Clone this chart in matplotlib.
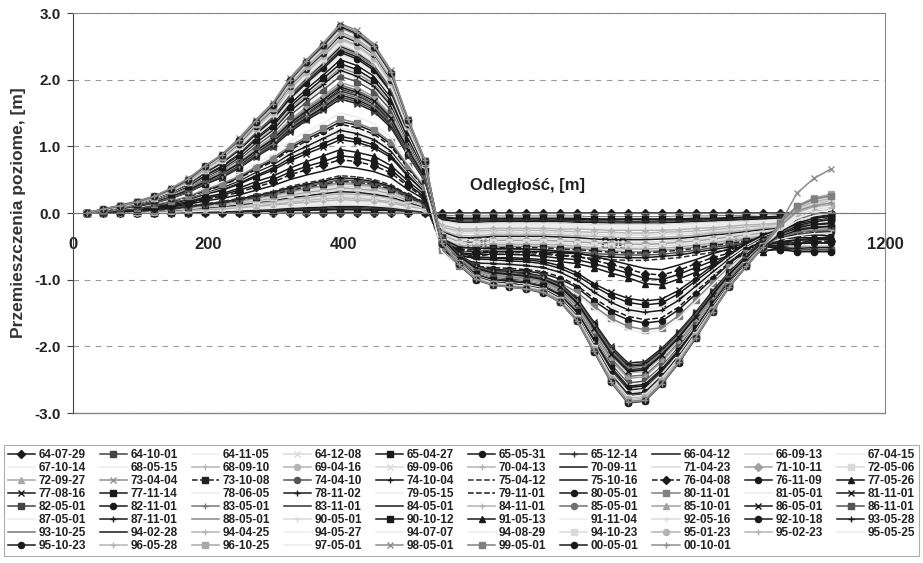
import matplotlib
matplotlib.use('Agg')
import matplotlib.pyplot as plt

plt.rcParams['font.family'] = ['Liberation Sans', 'DejaVu Sans']
plt.rcParams['font.weight'] = 'bold'
plt.rcParams['axes.labelweight'] = 'bold'
plt.rcParams['axes.unicode_minus'] = False

# odległość punktów linii obserwacyjnej [m]
odleglosc = [20, 45, 70, 95, 120, 145, 170, 195, 220, 245, 270, 295, 320, 345, 370,
             395, 420, 445, 470, 495, 520, 545, 570, 595, 620, 645, 670, 695, 720,
             745, 770, 795, 820, 845, 870, 895, 920, 945, 970, 995, 1020, 1045,
             1070, 1095, 1120]

# daty pomiarów (kolejność jak w legendzie)
daty = ['64-07-29', '64-10-01', '64-11-05', '64-12-08', '65-04-27', '65-05-31', '65-12-14', '66-04-12', '66-09-13', '67-04-15',
        '67-10-14', '68-05-15', '68-09-10', '69-04-16', '69-09-06', '70-04-13', '70-09-11', '71-04-23', '71-10-11', '72-05-06',
        '72-09-27', '73-04-04', '73-10-08', '74-04-10', '74-10-04', '75-04-12', '75-10-16', '76-04-08', '76-11-09', '77-05-26',
        '77-08-16', '77-11-14', '78-06-05', '78-11-02', '79-05-15', '79-11-01', '80-05-01', '80-11-01', '81-05-01', '81-11-01',
        '82-05-01', '82-11-01', '83-05-01', '83-11-01', '84-05-01', '84-11-01', '85-05-01', '85-10-01', '86-05-01', '86-11-01',
        '87-05-01', '87-11-01', '88-05-01', '90-05-01', '90-10-12', '91-05-13', '91-11-04', '92-05-16', '92-10-18', '93-05-28',
        '93-10-25', '94-02-28', '94-04-25', '94-05-27', '94-07-07', '94-08-29', '94-10-23', '95-01-23', '95-02-23', '95-05-25',
        '95-10-23', '96-05-28', '96-10-25', '97-05-01', '98-05-01', '99-05-01', '00-05-01', '00-10-01']

# przemieszczenia poziome [cm] - jeden wiersz na pomiar
przem_64_72 = [
    [0, 0, 0, 0, 0, 0, 0, 0, 0, 0, 0, 0, 0, 0, 0, 0, 0, 0, 0, 0, 0, 0, 0, 0, 0, 0, 0, 0, 0, 0, 0, 0, 0, 0, 0, 0, 0, 0, 0, 0, 0, 0, 0, 0, 0],
    [0, 0, 0, 0, 0, 0, 0, 1, 1, 1, 1, 1, 1, 2, 2, 2, 2, 2, 2, 1, 1, -4, -5, -5, -5, -5, -5, -5, -5, -5, -6, -6, -6, -6, -6, -5, -5, -5, -4, -4, -4, -3, -3, -3, -2],
    [0, 0, 0, 0, 0, 0, 1, 1, 1, 1, 1, 2, 2, 2, 3, 3, 3, 3, 2, 2, 1, -5, -6, -6, -6, -6, -6, -6, -6, -6, -7, -7, -7, -7, -7, -6, -6, -6, -5, -5, -4, -4, -3, -3, -3],
    [0, 0, 0, 0, 0, 1, 1, 1, 1, 2, 2, 2, 3, 3, 4, 4, 4, 4, 3, 2, 1, -6, -7, -7, -7, -7, -7, -7, -7, -7, -8, -8, -8, -8, -8, -8, -7, -7, -6, -6, -5, -5, -4, -4, -3],
    [0, 0, 0, 0, 0, 1, 1, 1, 2, 2, 2, 3, 4, 4, 5, 5, 5, 4, 4, 3, 1, -6, -8, -8, -8, -8, -8, -8, -8, -8, -9, -9, -9, -9, -9, -9, -8, -8, -7, -6, -6, -5, -5, -4, -4],
    [0, 0, 0, 0, 1, 1, 1, 2, 2, 2, 3, 3, 4, 5, 5, 6, 6, 5, 5, 3, 2, -7, -9, -9, -9, -9, -9, -9, -9, -10, -10, -10, -10, -10, -10, -10, -9, -9, -8, -7, -6, -6, -5, -5, -4],
    [0, 0, 0, 0, 1, 1, 1, 2, 2, 3, 4, 5, 6, 6, 7, 8, 8, 7, 6, 4, 2, -9, -12, -12, -11, -11, -11, -11, -11, -12, -12, -12, -13, -13, -12, -12, -11, -10, -10, -9, -8, -7, -6, -6, -5],
    [0, 0, 0, 1, 1, 1, 2, 3, 3, 4, 5, 6, 7, 8, 9, 10, 10, 9, 8, 5, 3, -10, -14, -14, -13, -13, -13, -13, -13, -14, -14, -15, -15, -15, -15, -14, -13, -12, -11, -10, -9, -8, -8, -7, -6],
    [0, 0, 0, 1, 1, 2, 2, 3, 4, 5, 6, 7, 9, 10, 11, 12, 12, 11, 9, 6, 3, -12, -16, -16, -15, -15, -15, -15, -15, -16, -17, -17, -17, -17, -17, -16, -15, -14, -13, -12, -11, -10, -9, -8, -7],
    [0, 0, 1, 1, 1, 2, 3, 4, 4, 5, 7, 8, 10, 11, 13, 14, 13, 12, 11, 7, 4, -14, -18, -18, -17, -17, -17, -17, -18, -18, -19, -19, -20, -20, -19, -18, -17, -16, -15, -14, -12, -11, -10, -9, -8],
    [0, 0, 1, 1, 1, 2, 3, 4, 5, 6, 8, 9, 11, 13, 14, 16, 15, 14, 12, 8, 4, -15, -20, -20, -19, -19, -19, -19, -20, -20, -21, -21, -22, -22, -21, -21, -19, -18, -17, -15, -14, -12, -11, -10, -9],
    [0, 0, 1, 1, 2, 2, 3, 5, 6, 7, 9, 10, 13, 15, 16, 18, 17, 16, 14, 9, 5, -17, -22, -22, -21, -21, -21, -21, -22, -22, -23, -24, -24, -24, -24, -23, -21, -20, -18, -17, -15, -14, -12, -11, -10],
    [0, 0, 1, 1, 2, 3, 4, 5, 6, 8, 10, 12, 14, 16, 18, 20, 19, 18, 15, 10, 6, -18, -24, -24, -23, -23, -23, -23, -24, -24, -25, -26, -26, -26, -26, -25, -23, -22, -20, -18, -17, -15, -13, -12, -11],
    [0, 0, 1, 1, 2, 3, 4, 6, 7, 9, 11, 13, 16, 19, 21, 23, 22, 20, 17, 12, 6, -21, -27, -27, -26, -26, -26, -26, -27, -28, -29, -29, -30, -30, -29, -28, -27, -25, -23, -21, -19, -17, -15, -14, -12],
    [0, 1, 1, 2, 2, 3, 5, 7, 8, 10, 13, 15, 18, 21, 23, 26, 25, 23, 20, 13, 7, -23, -30, -30, -29, -29, -29, -29, -30, -31, -32, -33, -33, -33, -32, -31, -30, -28, -26, -23, -21, -19, -17, -15, -14],
    [0, 1, 1, 2, 3, 4, 5, 7, 9, 11, 14, 17, 21, 23, 26, 29, 28, 26, 22, 15, 8, -26, -34, -34, -32, -32, -32, -32, -33, -34, -35, -36, -37, -37, -36, -35, -33, -30, -28, -26, -23, -21, -19, -17, -15],
    [0, 1, 1, 2, 3, 4, 6, 8, 10, 12, 16, 19, 23, 26, 29, 32, 31, 28, 24, 16, 9, -28, -37, -37, -35, -35, -35, -35, -36, -37, -39, -40, -40, -40, -39, -38, -36, -33, -31, -28, -25, -23, -20, -18, -17],
    [0, 1, 1, 2, 3, 5, 6, 9, 11, 14, 17, 20, 25, 28, 32, 35, 34, 31, 26, 18, 10, -30, -40, -40, -38, -38, -38, -38, -39, -40, -42, -43, -44, -44, -43, -41, -39, -36, -33, -30, -27, -25, -22, -20, -18],
    [0, 1, 2, 2, 3, 5, 7, 10, 12, 15, 19, 22, 27, 31, 34, 38, 36, 34, 29, 19, 11, -33, -43, -43, -41, -41, -41, -41, -42, -43, -45, -46, -47, -47, -46, -44, -42, -39, -36, -33, -30, -27, -24, -21, -20],
    [0, 1, 2, 2, 4, 5, 7, 10, 13, 16, 20, 24, 29, 33, 37, 41, 39, 36, 31, 21, 11, -35, -46, -46, -44, -44, -44, -44, -45, -47, -48, -50, -51, -51, -49, -48, -45, -42, -39, -35, -32, -29, -26, -23, -21],
]
przem_72_81 = [
    [0, 1, 2, 3, 4, 6, 8, 11, 14, 17, 22, 26, 31, 36, 40, 44, 42, 39, 33, 22, 12, -38, -49, -49, -47, -47, -47, -47, -48, -50, -52, -53, -54, -54, -53, -51, -48, -45, -41, -38, -34, -31, -27, -24, -23],
    [0, 1, 2, 3, 4, 6, 8, 12, 14, 18, 23, 27, 33, 37, 41, 46, 44, 41, 35, 23, 13, -40, -53, -53, -50, -50, -50, -50, -52, -53, -55, -57, -58, -58, -56, -54, -51, -48, -44, -40, -36, -33, -29, -26, -24],
    [0, 1, 2, 3, 4, 6, 9, 12, 15, 19, 24, 28, 34, 39, 43, 48, 46, 43, 36, 24, 13, -42, -55, -55, -52, -52, -52, -52, -54, -55, -57, -59, -60, -60, -58, -56, -53, -49, -46, -42, -37, -34, -30, -27, -25],
    [0, 1, 2, 3, 5, 7, 9, 13, 16, 20, 25, 29, 36, 41, 45, 50, 48, 45, 38, 25, 14, -44, -58, -58, -55, -55, -55, -55, -57, -58, -61, -62, -63, -63, -62, -59, -56, -52, -48, -44, -40, -36, -32, -29, -26],
    [0, 1, 2, 3, 5, 7, 10, 13, 16, 21, 26, 31, 38, 43, 48, 53, 51, 47, 40, 27, 15, -46, -61, -61, -58, -58, -58, -58, -60, -61, -64, -66, -67, -67, -65, -63, -59, -55, -51, -46, -42, -38, -34, -30, -28],
    [0, 1, 2, 3, 5, 7, 10, 14, 17, 22, 27, 32, 40, 45, 50, 56, 54, 50, 42, 28, 16, -50, -65, -65, -62, -62, -62, -62, -64, -66, -68, -70, -71, -71, -69, -67, -63, -59, -55, -50, -45, -40, -36, -32, -30],
    [0, 1, 3, 4, 6, 9, 13, 18, 22, 27, 34, 41, 50, 57, 63, 70, 67, 62, 53, 35, 20, -38, -51, -53, -53, -53, -54, -55, -58, -60, -65, -71, -77, -83, -85, -78, -70, -61, -54, -49, -46, -43, -40, -38, -36],
    [0, 2, 3, 5, 7, 10, 14, 20, 25, 31, 39, 46, 57, 65, 72, 80, 77, 71, 60, 40, 22, -42, -56, -58, -58, -58, -59, -60, -63, -65, -71, -77, -84, -91, -93, -86, -76, -67, -60, -54, -50, -47, -45, -43, -42],
    [0, 2, 3, 5, 8, 11, 15, 22, 27, 34, 42, 50, 61, 70, 77, 86, 83, 77, 65, 43, 24, -45, -60, -62, -62, -62, -63, -65, -68, -70, -76, -83, -90, -98, -100, -92, -82, -72, -64, -58, -56, -55, -55, -55, -55],
    [0, 2, 4, 6, 9, 12, 17, 24, 29, 37, 47, 55, 67, 77, 86, 95, 91, 85, 71, 48, 27, -49, -65, -67, -67, -67, -68, -70, -73, -76, -82, -90, -97, -106, -108, -99, -89, -78, -69, -63, -58, -52, -46, -40, -35],
    [0, 2, 4, 7, 10, 14, 20, 28, 34, 43, 54, 64, 78, 89, 99, 110, 106, 98, 83, 55, 31, -42, -59, -66, -67, -69, -70, -73, -79, -90, -106, -119, -128, -132, -129, -116, -98, -79, -61, -45, -33, -24, -17, -12, -8],
    [0, 2, 5, 7, 10, 15, 21, 29, 36, 45, 56, 67, 82, 93, 104, 115, 110, 102, 86, 58, 32, -44, -62, -69, -70, -72, -73, -76, -83, -94, -110, -124, -134, -138, -135, -121, -102, -83, -63, -47, -35, -25, -18, -12, -8],
    [0, 2, 5, 7, 11, 16, 22, 30, 37, 47, 59, 70, 85, 97, 108, 120, 115, 107, 90, 60, 34, -46, -65, -72, -73, -75, -76, -79, -86, -98, -115, -130, -140, -144, -141, -127, -107, -86, -66, -49, -36, -26, -19, -13, -9],
    [0, 2, 5, 7, 11, 16, 22, 31, 38, 48, 61, 72, 88, 100, 112, 124, 119, 110, 93, 62, 35, -48, -67, -75, -76, -77, -79, -82, -89, -101, -119, -134, -145, -149, -146, -131, -110, -89, -69, -51, -37, -27, -19, -13, -9],
    [0, 3, 5, 8, 12, 17, 23, 32, 40, 50, 63, 74, 91, 104, 115, 128, 123, 114, 96, 64, 36, -49, -69, -77, -79, -80, -82, -85, -92, -105, -123, -139, -149, -154, -151, -136, -114, -92, -71, -52, -39, -28, -20, -14, -9],
    [0, 3, 5, 8, 12, 17, 24, 33, 41, 52, 65, 77, 94, 108, 120, 133, 128, 118, 100, 67, 37, -51, -72, -80, -82, -83, -85, -88, -96, -109, -128, -144, -155, -160, -157, -141, -118, -96, -74, -54, -40, -29, -21, -14, -10],
    [0, 3, 5, 8, 12, 18, 25, 34, 42, 53, 67, 79, 97, 111, 123, 137, 132, 122, 103, 69, 38, -53, -74, -83, -84, -86, -87, -91, -99, -112, -132, -149, -160, -165, -162, -145, -122, -99, -76, -56, -41, -30, -21, -15, -10],
    [0, 3, 6, 8, 13, 18, 25, 35, 44, 55, 69, 82, 100, 114, 127, 141, 135, 125, 106, 71, 39, -56, -79, -88, -89, -91, -93, -96, -105, -119, -140, -158, -170, -175, -172, -154, -130, -105, -81, -60, -44, -32, -23, -16, -11],
    [0, 3, 6, 9, 14, 20, 27, 38, 47, 59, 74, 87, 107, 122, 135, 150, 144, 134, 113, 75, 42, -58, -81, -90, -92, -94, -95, -99, -108, -122, -144, -162, -175, -180, -176, -158, -133, -108, -83, -61, -45, -32, -23, -16, -11],
    [0, 3, 7, 10, 15, 22, 31, 43, 53, 67, 84, 99, 121, 139, 154, 171, 164, 152, 128, 86, 48, -36, -61, -79, -86, -88, -90, -95, -106, -128, -164, -200, -225, -223, -203, -178, -149, -117, -88, -63, -41, -35, -33, -33, -34],
]
przem_82_93 = [
    [0, 3, 7, 10, 16, 23, 31, 44, 54, 68, 85, 101, 124, 141, 157, 174, 167, 155, 131, 87, 49, -36, -62, -80, -87, -89, -91, -96, -107, -130, -166, -203, -228, -226, -205, -180, -150, -119, -89, -64, -41, -30, -24, -21, -20],
    [0, 4, 7, 11, 16, 23, 32, 44, 55, 69, 87, 103, 126, 143, 159, 177, 170, 158, 133, 89, 50, -37, -62, -81, -87, -90, -92, -97, -108, -131, -168, -205, -230, -228, -207, -182, -152, -120, -90, -64, -41, -26, -16, -12, -10],
    [0, 4, 7, 11, 16, 23, 32, 45, 56, 70, 88, 104, 128, 146, 162, 180, 173, 160, 135, 90, 50, -37, -63, -81, -88, -90, -93, -97, -109, -132, -169, -206, -232, -230, -209, -183, -153, -121, -90, -65, -42, -22, -8, -2, 0],
    [0, 4, 7, 11, 16, 24, 33, 46, 57, 71, 90, 106, 130, 148, 165, 183, 176, 163, 137, 92, 51, -38, -63, -82, -89, -92, -94, -99, -110, -134, -172, -209, -235, -233, -212, -186, -155, -122, -92, -66, -42, -44, -45, -45, -45],
    [0, 4, 7, 11, 17, 24, 33, 47, 58, 73, 91, 108, 132, 151, 167, 186, 179, 166, 140, 93, 52, -38, -64, -83, -90, -93, -95, -100, -112, -136, -174, -212, -238, -236, -214, -188, -157, -124, -93, -67, -43, -20, -5, 2, 5],
    [0, 4, 8, 11, 17, 24, 34, 47, 58, 73, 92, 109, 133, 152, 169, 188, 180, 167, 141, 94, 53, -38, -65, -84, -91, -94, -96, -101, -113, -137, -175, -214, -240, -238, -216, -190, -158, -125, -94, -67, -43, -32, -27, -25, -25],
    [0, 4, 8, 12, 17, 25, 35, 48, 60, 75, 94, 111, 136, 156, 173, 192, 184, 171, 144, 96, 54, -39, -66, -86, -93, -96, -98, -103, -115, -140, -179, -218, -245, -243, -221, -194, -162, -127, -96, -69, -44, -18, -2, 6, 10],
    [0, 4, 8, 12, 18, 25, 35, 49, 61, 76, 96, 114, 139, 159, 176, 196, 188, 174, 147, 98, 55, -40, -67, -87, -94, -97, -99, -104, -117, -141, -181, -221, -248, -246, -223, -196, -164, -129, -97, -69, -45, -48, -50, -50, -50],
    [0, 4, 8, 11, 17, 25, 34, 47, 59, 74, 93, 110, 134, 153, 170, 189, 181, 168, 142, 95, 53, -38, -64, -83, -90, -92, -95, -100, -111, -135, -173, -211, -237, -235, -213, -187, -156, -123, -92, -66, -43, -38, -37, -37, -38],
    [0, 4, 8, 12, 18, 27, 37, 51, 64, 80, 100, 119, 146, 166, 185, 205, 197, 182, 154, 103, 57, -41, -69, -89, -97, -99, -102, -107, -120, -145, -186, -227, -255, -252, -230, -201, -168, -133, -99, -71, -46, -52, -55, -55, -55],
    [0, 4, 8, 13, 19, 27, 38, 53, 65, 82, 103, 122, 149, 170, 189, 210, 202, 187, 158, 105, 59, -41, -70, -90, -98, -101, -103, -108, -121, -147, -188, -230, -258, -255, -232, -204, -170, -134, -101, -72, -46, -39, -34, -31, -30],
    [0, 4, 9, 13, 19, 28, 39, 54, 66, 83, 105, 124, 152, 173, 193, 214, 205, 190, 161, 107, 60, -42, -70, -91, -99, -101, -104, -109, -122, -148, -190, -231, -260, -257, -234, -205, -172, -135, -101, -73, -47, -35, -26, -22, -20],
    [0, 4, 9, 13, 20, 28, 39, 55, 68, 85, 107, 126, 155, 177, 196, 218, 209, 194, 164, 109, 61, -42, -71, -92, -100, -102, -105, -110, -123, -149, -191, -233, -262, -259, -236, -207, -173, -136, -102, -73, -47, -26, -12, -4, 0],
    [0, 4, 9, 13, 20, 29, 40, 55, 69, 86, 108, 128, 157, 179, 199, 221, 212, 197, 166, 111, 62, -42, -71, -92, -100, -103, -106, -111, -124, -150, -193, -235, -264, -261, -238, -209, -174, -137, -103, -74, -48, -22, -3, 6, 10],
    [0, 4, 9, 13, 20, 29, 40, 56, 69, 87, 110, 130, 159, 181, 202, 224, 215, 199, 168, 112, 63, -42, -71, -92, -100, -102, -105, -110, -123, -149, -191, -233, -262, -259, -236, -207, -173, -136, -102, -73, -47, -28, -15, -8, -5],
    [0, 5, 9, 14, 21, 30, 41, 58, 71, 90, 113, 133, 163, 186, 207, 230, 221, 205, 173, 115, 64, -43, -72, -93, -101, -104, -106, -112, -125, -152, -194, -237, -266, -263, -239, -210, -176, -138, -104, -74, -48, -32, -22, -17, -15],
    [0, 5, 9, 14, 21, 30, 42, 59, 73, 91, 115, 136, 166, 190, 211, 234, 225, 208, 176, 117, 66, -43, -72, -94, -102, -105, -107, -113, -126, -153, -196, -239, -268, -265, -241, -212, -177, -139, -105, -75, -48, -24, -7, 1, 5],
    [0, 5, 10, 14, 21, 31, 43, 60, 74, 93, 117, 138, 169, 193, 214, 238, 228, 212, 179, 119, 67, -43, -73, -95, -103, -105, -108, -113, -127, -154, -197, -240, -270, -267, -243, -213, -178, -140, -105, -76, -49, -20, 2, 11, 15],
    [0, 5, 10, 14, 22, 31, 43, 60, 75, 94, 118, 140, 171, 195, 217, 241, 231, 214, 181, 121, 67, -44, -73, -95, -103, -106, -109, -114, -128, -155, -199, -242, -272, -269, -245, -215, -180, -141, -106, -76, -49, -55, -58, -58, -58],
    [0, 5, 10, 15, 22, 32, 44, 61, 76, 95, 120, 142, 173, 198, 220, 244, 234, 217, 183, 122, 68, -44, -74, -96, -104, -106, -109, -115, -128, -156, -199, -243, -273, -270, -246, -216, -180, -142, -106, -76, -49, -44, -41, -40, -40],
]
przem_93_00 = [
    [0, 5, 10, 15, 22, 32, 44, 62, 77, 96, 121, 143, 175, 200, 222, 247, 237, 220, 185, 124, 69, -44, -74, -96, -104, -107, -110, -115, -129, -156, -200, -244, -274, -271, -247, -217, -181, -143, -107, -77, -49, -36, -29, -26, -25],
    [0, 5, 10, 15, 23, 33, 45, 63, 78, 98, 123, 145, 178, 203, 225, 250, 240, 223, 188, 125, 70, -44, -74, -96, -105, -107, -110, -116, -129, -157, -201, -245, -275, -272, -248, -217, -182, -143, -107, -77, -50, -52, -53, -52, -52],
    [0, 5, 10, 15, 23, 33, 45, 63, 78, 98, 123, 146, 179, 204, 227, 252, 242, 224, 189, 126, 71, -44, -75, -97, -105, -108, -110, -116, -130, -157, -201, -246, -276, -273, -248, -218, -182, -144, -108, -77, -50, -19, 4, 14, 18],
    [0, 5, 10, 15, 23, 33, 46, 64, 79, 99, 124, 147, 180, 206, 229, 254, 244, 226, 191, 127, 71, -44, -75, -97, -105, -108, -110, -116, -130, -157, -201, -246, -276, -273, -248, -218, -182, -144, -108, -77, -50, -26, -12, -4, 0],
    [0, 5, 10, 15, 23, 33, 46, 64, 79, 100, 125, 148, 182, 207, 230, 256, 246, 228, 192, 128, 72, -44, -75, -97, -105, -108, -111, -116, -130, -158, -202, -247, -277, -274, -249, -219, -183, -144, -108, -78, -50, -23, -5, 4, 8],
    [0, 5, 10, 15, 23, 34, 46, 65, 80, 101, 126, 150, 183, 209, 232, 258, 248, 230, 194, 129, 72, -44, -75, -97, -106, -108, -111, -117, -131, -158, -203, -247, -278, -275, -250, -220, -183, -145, -108, -78, -50, -32, -19, -13, -10],
    [0, 5, 10, 16, 23, 34, 47, 65, 80, 101, 127, 150, 184, 210, 233, 259, 249, 231, 194, 130, 73, -44, -75, -97, -106, -108, -111, -117, -131, -158, -203, -247, -278, -275, -250, -220, -183, -145, -108, -78, -50, -18, 5, 15, 20],
    [0, 5, 10, 16, 23, 34, 47, 65, 81, 102, 128, 151, 185, 211, 235, 261, 251, 232, 196, 131, 73, -45, -75, -98, -106, -109, -112, -117, -131, -159, -204, -248, -279, -276, -251, -220, -184, -145, -109, -78, -50, -21, 0, 9, 12],
    [0, 5, 11, 16, 24, 34, 47, 66, 82, 103, 129, 153, 187, 213, 237, 263, 252, 234, 197, 132, 74, -45, -75, -98, -106, -109, -112, -117, -131, -159, -204, -248, -279, -276, -251, -220, -184, -145, -109, -78, -50, -17, 7, 17, 22],
    [0, 5, 11, 16, 24, 34, 48, 66, 82, 103, 130, 154, 188, 215, 239, 265, 254, 236, 199, 133, 74, -45, -76, -98, -106, -109, -112, -118, -132, -160, -204, -249, -280, -277, -252, -221, -185, -146, -109, -78, -50, -25, -8, 1, 5],
    [0, 5, 11, 16, 24, 35, 48, 67, 83, 104, 131, 155, 190, 216, 240, 267, 256, 238, 200, 134, 75, -45, -76, -99, -107, -110, -113, -118, -133, -161, -206, -251, -282, -279, -254, -223, -186, -147, -110, -79, -51, -48, -46, -45, -45],
    [0, 5, 11, 16, 24, 35, 48, 67, 83, 105, 132, 156, 191, 218, 242, 269, 258, 239, 202, 135, 75, -45, -76, -98, -107, -110, -112, -118, -132, -160, -205, -250, -281, -278, -253, -222, -185, -146, -110, -79, -51, -16, 9, 20, 25],
    [0, 5, 11, 16, 24, 35, 49, 68, 84, 106, 133, 158, 193, 220, 245, 272, 261, 242, 204, 136, 76, -45, -76, -98, -107, -110, -112, -118, -132, -160, -205, -250, -281, -278, -253, -222, -185, -146, -110, -79, -51, -14, 11, 23, 28],
    [0, 6, 11, 17, 25, 36, 50, 69, 85, 107, 135, 160, 195, 223, 248, 275, 264, 245, 206, 138, 77, -45, -76, -99, -107, -110, -113, -118, -133, -161, -206, -251, -282, -279, -254, -223, -186, -147, -110, -79, -51, -22, -2, 7, 10],
    [0, 5, 12, 18, 25, 37, 52, 70, 88, 112, 140, 165, 202, 230, 255, 284, 274, 253, 214, 141, 80, -45, -78, -100, -108, -110, -113, -118, -133, -162, -208, -252, -284, -282, -256, -224, -188, -148, -110, -80, -50, -15, 30, 52, 66],
    [0, 6, 11, 17, 25, 36, 50, 70, 86, 108, 136, 161, 197, 225, 250, 278, 267, 247, 209, 139, 78, -45, -76, -99, -108, -110, -113, -119, -133, -161, -207, -252, -283, -280, -255, -224, -187, -147, -110, -79, -51, -15, 10, 21, 26],
    [0, 6, 11, 17, 25, 36, 50, 70, 87, 109, 137, 162, 199, 227, 252, 280, 269, 249, 210, 140, 78, -46, -77, -100, -108, -111, -114, -120, -134, -162, -208, -254, -285, -282, -257, -225, -188, -148, -111, -80, -51, -32, -19, -13, -10],
    [0, 6, 11, 17, 25, 37, 51, 71, 87, 110, 138, 164, 200, 228, 254, 282, 271, 251, 212, 141, 79, -45, -77, -99, -108, -111, -114, -119, -134, -162, -207, -253, -284, -281, -256, -224, -187, -148, -111, -80, -51, -20, 3, 11, 15],
]

# wygląd serii (kolor, znacznik, styl linii) - druk w skali szarości
K = '#1a1a1a'
W = '#ececec'
VL = '#dadada'
L = '#b4b4b4'
G = '#808080'
style = [
    (K, 'D', '-'), ('#444444', 's', '-'), (W, '', '-'), (VL, 'x', '-'), (K, 's', '-'),
    (K, 'o', '-'), ('#333333', '+', '-'), (K, '', '-'), (VL, '', '-'), (W, '', '-'),
    (W, '', '-'), (W, '', '-'), (L, '|', '-'), (L, 'o', '-'), (VL, 'x', '-'),
    (L, '+', '-'), (K, '', '-'), (VL, '', '-'), ('#a0a0a0', 'D', '-'), (VL, 's', '-'),
    ('#a8a8a8', '^', '-'), ('#909090', 'x', '-'), ('#222222', 's', '--'), ('#555555', 'o', '-'), (K, '+', '-'),
    ('#333333', '', '--'), (K, '', '-'), (K, 'D', '--'), (K, 'o', '-'), (K, '^', '-'),
    (K, 'x', '-'), (K, 's', '-'), (W, '', '-'), (K, '+', '-'), (W, '', '-'),
    (K, '', '--'), (K, 'o', '-'), (G, 's', '-'), (W, '', '-'), (K, 'x', '-'),
    ('#444444', 's', '-'), (K, 'o', '-'), ('#777777', '+', '-'), ('#333333', '', '-'), (K, '', '-'),
    (L, '+', '-'), ('#707070', 'o', '-'), ('#a0a0a0', '^', '-'), (K, 'x', '-'), ('#555555', 's', '-'),
    (W, '', '-'), (K, '+', '-'), ('#888888', '', '-'), (VL, '+', '-'), (K, 's', '-'),
    (K, '^', '-'), (W, '', '-'), (VL, '+', '-'), (K, 'o', '-'), (K, '+', '-'),
    ('#777777', '', '-'), (K, '', '-'), (L, '+', '-'), (W, '', '-'), (W, '', '-'),
    (W, '', '-'), (VL, 's', '-'), (L, 'o', '-'), (L, '+', '-'), (W, '', '-'),
    (K, 'o', '-'), (L, '+', '-'), ('#a8a8a8', 's', '-'), (W, '', '-'), ('#8c8c8c', 'x', '-'),
    (G, 's', '-'), (K, 'o', '-'), ('#909090', '+', '-'),
]

serie = przem_64_72 + przem_72_81 + przem_82_93 + przem_93_00

fig = plt.figure(figsize=(9.23, 5.63), dpi=100)
ax = fig.add_axes([0.0791, 0.2664, 0.8798, 0.7105])

for data, wiersz, (kol, znak, lst) in zip(daty, serie, style):
    y = [v / 100.0 for v in wiersz]
    ms = 5 if znak in ('x', '+', '|') else 4.4
    ax.plot(odleglosc, y, color=kol, marker=znak if znak else None, linestyle=lst,
            linewidth=1.1, markersize=ms, markerfacecolor=kol, markeredgecolor=kol,
            markeredgewidth=1.0, label=data)

ax.set_xlim(0, 1200)
ax.set_ylim(-3, 3)
ax.set_axisbelow(True)
ax.set_yticks([-3, -2, -1, 0, 1, 2, 3])
ax.set_yticklabels(['%.1f' % v for v in [-3, -2, -1, 0, 1, 2, 3]])
ax.set_xticks([0, 200, 400, 600, 800, 1000, 1200])
ax.yaxis.grid(True, linestyle=(0, (5, 5)), color='#999999', linewidth=0.8)

ax.spines['bottom'].set_position(('data', 0))
ax.spines['bottom'].set_color('#777777')
ax.spines['left'].set_color('#444444')
ax.spines['top'].set_color('#888888')
ax.spines['right'].set_color('#888888')
ax.axhline(-3, color='#888888', linewidth=1.0, clip_on=False)

ax.tick_params(axis='y', direction='out', length=4, pad=5, labelsize=11, labelcolor='#222222', color='#444444')
ax.tick_params(axis='x', length=0, pad=17, labelsize=12, labelcolor='#222222')

ax.set_ylabel('Przemieszczenia poziome, [m]', fontsize=12.5, fontweight='bold', color='#333333')
ax.yaxis.set_label_coords(-0.058, 0.5)
ax.text(672, 0.42, 'Odległość, [m]', fontsize=12, fontweight='bold', color='#222222', ha='center', va='center')

# legenda wierszami (jak w Excelu)
uchwyty, etykiety = ax.get_legend_handles_labels()
ncol = 10
kolejnosc = [r * ncol + c for c in range(ncol) for r in range(8) if r * ncol + c < len(uchwyty)]
leg = fig.legend([uchwyty[i] for i in kolejnosc], [etykiety[i] for i in kolejnosc],
                 loc='upper left', bbox_to_anchor=(0.004, 0.005, 0.992, 0.2046),
                 mode='expand', ncol=ncol, fontsize=8.5, frameon=True, fancybox=False,
                 edgecolor='#999999', borderaxespad=0, borderpad=0.35,
                 labelspacing=0.08, handlelength=2.3, handletextpad=0.3, columnspacing=0.6)
leg.get_frame().set_linewidth(0.8)
for t in leg.get_texts():
    t.set_color('#222222')

fig.savefig('out.png', dpi=100)
